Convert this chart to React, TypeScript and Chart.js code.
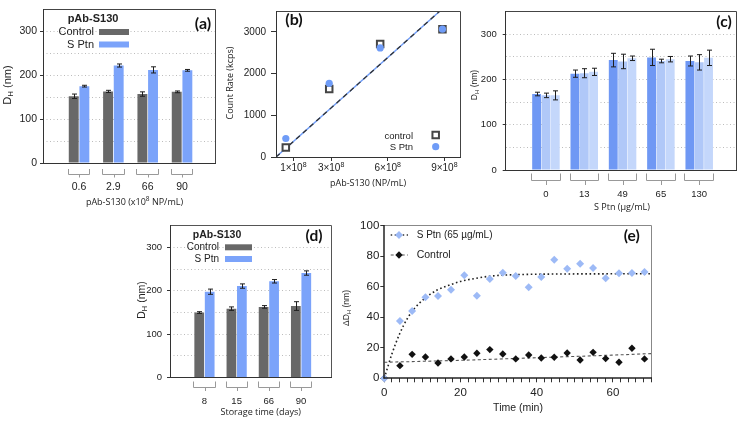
import React, { useEffect, useRef } from 'react';
import { Chart, registerables } from 'chart.js';

Chart.register(...registerables);

const SANS = '"Liberation Sans", Arial, sans-serif';
const OPEN = '"Open Sans", sans-serif';
const LATO = 'Lato, sans-serif';
Chart.defaults.font.family = SANS;
Chart.defaults.color = '#222';

// ---------- (a) pAb-S130 concentration ----------
const aCategories = ['0.6', '2.9', '66', '90'];
const aControl = [152, 163, 157, 162];
const aControlErr = [5, 2.5, 5, 2];
const aSPtn = [175, 222, 212, 211];
const aSPtnErr = [2, 3.5, 7, 2];

// ---------- (b) count rate ----------
const bConcentration = [0.6e8, 2.9e8, 5.6e8, 8.9e8];
const bControl = [230, 1630, 2710, 3060];
const bSPtn = [443, 1765, 2615, 3065];
const bFitX = [0.08e8, 8.77e8];
const bFitY = [0, 3500];
const bXTicks = [1e8, 3e8, 6e8, 9e8];
const bYTicks = [0, 1000, 2000, 3000];

// ---------- (c) S Ptn concentration ----------
const cCategories = ['0', '13', '49', '65', '130'];
const cSeries1 = [168, 213, 243, 249, 241];
const cSeries1Err = [4, 8, 15, 18, 11];
const cSeries2 = [165, 214, 240, 241, 238];
const cSeries2Err = [5, 10, 16, 4, 17];
const cSeries3 = [165, 217, 247, 245, 248];
const cSeries3Err = [10, 8, 5, 6, 17];

// ---------- (d) storage time ----------
const dCategories = ['8', '15', '66', '90'];
const dControl = [150, 159, 163, 165];
const dControlErr = [2, 4, 3, 10];
const dSPtn = [198, 211, 222, 241];
const dSPtnErr = [6, 5, 4, 5];

// ---------- (e) kinetics ----------
const eTime = [0, 4.1, 7.3, 10.8, 14.1, 17.5, 21.0, 24.3, 27.7, 31.1, 34.5, 37.9, 41.2, 44.6, 48.0, 51.4, 54.8, 58.1, 61.6, 65.0, 68.3];
const eSPtn = [0, 37.6, 44.1, 53.1, 53.9, 58.1, 67.5, 54.1, 65.1, 69.2, 67.0, 59.6, 66.4, 77.7, 71.8, 75.1, 72.3, 65.5, 68.8, 69.0, 69.7];
const eControl = [0, 8.3, 15.7, 14.0, 10.0, 12.7, 14.0, 16.4, 18.8, 15.9, 12.7, 15.3, 13.3, 13.8, 16.6, 12.0, 17.0, 12.9, 10.5, 19.7, 12.7];
const eSPtnFitT = [0, 2, 4, 6, 8, 10, 12, 14, 17, 20, 24, 28, 33, 40, 50, 70];
const eSPtnFit = [0, 16, 29, 39, 46, 51, 55, 58, 61, 63.5, 65.5, 67, 67.8, 68.2, 68.4, 68.5];
const eControlFitT = [0, 20, 40, 60, 70];
const eControlFit = [10.5, 11.8, 13.5, 15.2, 16.2];
const eXTickStep = 2;
const eYTickStep = 20;

// ---------- styling ----------
const GRAY = '#686868';
const BLUE = '#7ba3fa';
const C1 = '#6f98f4';
const C2 = '#b0c8f8';
const C3 = '#c4d7fb';
const GRID = '#bcbcbc';

type Box = { cl: number; ct: number; cw: number; ch: number; l: number; t: number; r: number; b: number };
const BOX_A: Box = { cl: 0, ct: 0, cw: 222, ch: 215, l: 43, t: 8, r: 215, b: 163 };
const BOX_B: Box = { cl: 222, ct: 0, cw: 248, ch: 215, l: 276, t: 9.3, r: 460, b: 157 };
const BOX_C: Box = { cl: 470, ct: 0, cw: 273, ch: 215, l: 505.7, t: 11.7, r: 736, b: 170 };
const BOX_D: Box = { cl: 125, ct: 215, cw: 220, ch: 215, l: 170, t: 224, r: 331, b: 377.7 };
const BOX_E: Box = { cl: 340, ct: 215, cw: 403, ch: 215, l: 384.3, t: 225.7, r: 651, b: 378.3 };

const padFor = (b: Box) => ({ left: 0, top: b.t - b.ct, right: b.cl + b.cw - b.r, bottom: 0 });
const yW = (b: Box) => b.l - b.cl;
const xH = (b: Box) => b.ct + b.ch - b.b;

type Part = { t: string; size: number; bold?: boolean; dy?: number; family?: string };
type TextItem = { parts: Part[]; x: number; y: number; rotate?: number; align?: 'left' | 'center' | 'right'; color?: string; family?: string };
type Shape =
  | { kind: 'rect'; x: number; y: number; w: number; h: number; color: string }
  | { kind: 'line'; x1: number; x2: number; y: number; color: string; width: number; dash?: number[] }
  | { kind: 'marker'; style: 'circle' | 'diamond' | 'hollowSquare'; x: number; y: number; r: number; fill: string; stroke?: string; sw?: number };
type FrameSide = [string, number];
type Decor = {
  origin: [number, number];
  frame: { top: FrameSide; right: FrameSide; bottom: FrameSide; left: FrameSide };
  texts: TextItem[];
  shapes: Shape[];
  errorBars?: boolean;
  brackets?: { y1: number; y2: number; y3: number; color: string; extend: number };
  xTickRich?: { values: number[]; y: number; parts: (v: number) => Part[] };
};

const T = (text: string, x: number, y: number, size: number, o: Partial<TextItem> & { bold?: boolean } = {}): TextItem => ({
  parts: [{ t: text, size, bold: o.bold }],
  x,
  y,
  ...o,
});
const DH = (x: number, y: number, size: number, sub: number, prefix = ''): TextItem => ({
  parts: [
    { t: prefix + 'D', size },
    { t: 'H', size: sub, dy: size * 0.28 },
    { t: ' (nm)', size },
  ],
  x,
  y,
  rotate: -90,
});

function drawRich(ctx: CanvasRenderingContext2D, it: TextItem, ox: number, oy: number) {
  ctx.save();
  ctx.translate(it.x - ox, it.y - oy);
  if (it.rotate) ctx.rotate((it.rotate * Math.PI) / 180);
  ctx.fillStyle = it.color || '#222';
  ctx.textBaseline = 'middle';
  ctx.textAlign = 'left';
  const fam = it.family || SANS;
  const fonts = it.parts.map((p) => `${p.bold ? 'bold ' : ''}${p.size}px ${p.family || fam}`);
  const widths = it.parts.map((p, i) => {
    ctx.font = fonts[i];
    return ctx.measureText(p.t).width;
  });
  const total = widths.reduce((a, b) => a + b, 0);
  let cx = it.align === 'left' ? 0 : it.align === 'right' ? -total : -total / 2;
  it.parts.forEach((p, i) => {
    ctx.font = fonts[i];
    ctx.fillText(p.t, cx, p.dy || 0);
    cx += widths[i];
  });
  ctx.restore();
}

function drawMarker(ctx: CanvasRenderingContext2D, s: Extract<Shape, { kind: 'marker' }>, x: number, y: number) {
  ctx.beginPath();
  if (s.style === 'circle') {
    ctx.arc(x, y, s.r, 0, Math.PI * 2);
  } else if (s.style === 'diamond') {
    ctx.moveTo(x, y - s.r);
    ctx.lineTo(x + s.r, y);
    ctx.lineTo(x, y + s.r);
    ctx.lineTo(x - s.r, y);
    ctx.closePath();
  } else {
    const h = s.r * Math.SQRT1_2;
    ctx.rect(x - h, y - h, 2 * h, 2 * h);
  }
  ctx.fillStyle = s.fill;
  ctx.fill();
  if (s.stroke) {
    ctx.strokeStyle = s.stroke;
    ctx.lineWidth = s.sw || 1;
    ctx.stroke();
  }
}

const decorPlugin = (spec: Decor) => ({
  id: 'decor',
  afterDatasetsDraw(chart: any) {
    const ctx: CanvasRenderingContext2D = chart.ctx;
    const [ox, oy] = spec.origin;
    const ca = chart.chartArea;

    if (spec.errorBars) {
      const yScale = chart.scales.y;
      chart.data.datasets.forEach((ds: any, di: number) => {
        if (!ds.errors) return;
        const meta = chart.getDatasetMeta(di);
        meta.data.forEach((el: any, i: number) => {
          const v = ds.data[i].y;
          const e = ds.errors[i];
          const x = Math.round(el.x) + 0.5;
          const y1 = yScale.getPixelForValue(v + e);
          const y2 = yScale.getPixelForValue(v - e);
          const cap = 2.5;
          ctx.save();
          ctx.strokeStyle = '#1e1e1e';
          ctx.lineWidth = 1;
          ctx.beginPath();
          ctx.moveTo(x, y1);
          ctx.lineTo(x, y2);
          ctx.moveTo(x - cap, y1);
          ctx.lineTo(x + cap, y1);
          ctx.moveTo(x - cap, y2);
          ctx.lineTo(x + cap, y2);
          ctx.stroke();
          ctx.restore();
        });
      });
    }

    if (spec.brackets) {
      const br = spec.brackets;
      const metas = chart.data.datasets.map((_: any, i: number) => chart.getDatasetMeta(i));
      const n = chart.data.datasets[0].data.length;
      ctx.save();
      ctx.strokeStyle = br.color;
      ctx.lineWidth = 1;
      for (let i = 0; i < n; i++) {
        let lo = Infinity;
        let hi = -Infinity;
        metas.forEach((m: any) => {
          const el = m.data[i];
          if (!el) return;
          lo = Math.min(lo, el.x - el.width / 2);
          hi = Math.max(hi, el.x + el.width / 2);
        });
        lo = Math.round(lo - br.extend) + 0.5;
        hi = Math.round(hi + br.extend) - 0.5;
        const mid = Math.round((lo + hi) / 2) + 0.5;
        const y1 = br.y1 - oy;
        const y2 = Math.round(br.y2 - oy) + 0.5;
        const y3 = br.y3 - oy;
        ctx.beginPath();
        ctx.moveTo(lo, y1);
        ctx.lineTo(lo, y2);
        ctx.lineTo(hi, y2);
        ctx.lineTo(hi, y1);
        ctx.moveTo(mid, y2);
        ctx.lineTo(mid, y3);
        ctx.stroke();
      }
      ctx.restore();
    }

    // frame
    const f = spec.frame;
    const snap = (v: number, w: number) => (Math.round(w) % 2 === 1 ? Math.floor(v) + 0.5 : Math.round(v));
    const seg = (x1: number, y1: number, x2: number, y2: number, side: FrameSide) => {
      ctx.save();
      ctx.strokeStyle = side[0];
      ctx.lineWidth = side[1];
      ctx.beginPath();
      ctx.moveTo(x1, y1);
      ctx.lineTo(x2, y2);
      ctx.stroke();
      ctx.restore();
    };
    const L = snap(ca.left, f.left[1]);
    const R = snap(ca.right, f.right[1]);
    const Tp = snap(ca.top, f.top[1]);
    const B = snap(ca.bottom, f.bottom[1]);
    seg(R, Tp, R, B, f.right);
    seg(L, Tp, R, Tp, f.top);
    seg(L, Tp - 0.5, L, B + 0.5, f.left);
    seg(L - 0.5, B, R + 0.5, B, f.bottom);

    if (spec.xTickRich) {
      const xs = chart.scales.x;
      const tr = spec.xTickRich;
      tr.values.forEach((v) => {
        drawRich(ctx, { parts: tr.parts(v), x: xs.getPixelForValue(v) + ox, y: tr.y }, ox, oy);
      });
    }

    spec.shapes.forEach((s) => {
      ctx.save();
      if (s.kind === 'rect') {
        ctx.fillStyle = s.color;
        ctx.fillRect(s.x - ox, s.y - oy, s.w, s.h);
      } else if (s.kind === 'line') {
        ctx.strokeStyle = s.color;
        ctx.lineWidth = s.width;
        ctx.setLineDash(s.dash || []);
        ctx.beginPath();
        ctx.moveTo(s.x1 - ox, s.y - oy);
        ctx.lineTo(s.x2 - ox, s.y - oy);
        ctx.stroke();
      } else {
        drawMarker(ctx, s, s.x - ox, s.y - oy);
      }
      ctx.restore();
    });

    spec.texts.forEach((t) => drawRich(ctx, t, ox, oy));
  },
});

const baseOptions = {
  responsive: false,
  maintainAspectRatio: false,
  animation: false as const,
  events: [] as any[],
  plugins: { legend: { display: false }, tooltip: { enabled: false } },
};

const DARK_FRAME = { top: ['#444', 1], right: ['#444', 1], bottom: ['#333', 1], left: ['#333', 1] } as Decor['frame'];

function barConfig(
  box: Box,
  categories: string[],
  datasets: any[],
  xMin: number,
  xMax: number,
  tickSize: number,
  xPad: number,
  yPad: number,
  decor: Omit<Decor, 'origin'>,
) {
  return {
    type: 'bar',
    data: { datasets },
    options: {
      ...baseOptions,
      layout: { padding: padFor(box) },
      scales: {
        x: {
          type: 'linear',
          min: xMin,
          max: xMax,
          bounds: 'data',
          offset: false,
          afterFit: (s: any) => {
            s.height = xH(box);
          },
          afterBuildTicks: (s: any) => {
            s.ticks = categories.map((_, i) => ({ value: i }));
          },
          border: { display: false },
          grid: { display: false, drawTicks: false, offset: false },
          ticks: {
            autoSkip: false,
            maxRotation: 0,
            padding: xPad,
            color: '#222',
            font: { size: tickSize, family: SANS },
            callback: (v: number) => categories[v] ?? '',
          },
        },
        y: {
          min: 0,
          max: 350,
          afterFit: (s: any) => {
            s.width = yW(box);
          },
          border: { display: false, dash: [1, 2.5] },
          grid: {
            color: (c: any) => (c.tick && c.tick.value === 0 ? 'rgba(0,0,0,0)' : GRID),
            lineWidth: 1,
            tickLength: 3,
            tickColor: (c: any) => (c.tick && c.tick.value % 100 === 0 ? '#333' : 'rgba(0,0,0,0)'),
          },
          ticks: {
            stepSize: 50,
            autoSkip: false,
            padding: yPad,
            color: '#222',
            font: { size: tickSize, family: SANS },
            callback: (v: number) => (v % 100 === 0 ? String(v) : ''),
          },
        },
      },
    },
    plugins: [decorPlugin({ origin: [box.cl, box.ct], ...decor })],
  };
}

const toXY = (vals: number[]) => vals.map((v, i) => ({ x: i, y: v }));

function configA() {
  const ds = [
    { label: 'Control', data: toXY(aControl), errors: aControlErr, backgroundColor: GRAY, borderWidth: 0, categoryPercentage: 0.62, barPercentage: 0.93 },
    { label: 'S Ptn', data: toXY(aSPtn), errors: aSPtnErr, backgroundColor: BLUE, borderWidth: 0, categoryPercentage: 0.62, barPercentage: 0.93 },
  ];
  return barConfig(BOX_A, aCategories, ds, -1.05, 3.96, 10.5, 17.7, 3, {
    frame: DARK_FRAME,
    errorBars: true,
    brackets: { y1: 169, y2: 173.5, y3: 177.5, color: '#999', extend: 1 },
    shapes: [
      { kind: 'rect', x: 99, y: 29, w: 30, h: 6, color: GRAY },
      { kind: 'rect', x: 99, y: 41.5, w: 30, h: 6, color: BLUE },
    ],
    texts: [
      DH(8, 85, 11, 8),
      {
        parts: [
          { t: 'pAb-S130 (x10', size: 9 },
          { t: '8', size: 6.5, dy: -3.2 },
          { t: ' NP/mL)', size: 9 },
        ],
        x: 134.5,
        y: 202,
        family: OPEN,
      },
      T('pAb-S130', 93, 19, 11, { bold: true }),
      T('Control', 94, 32, 11, { align: 'right' }),
      T('S Ptn', 94, 45, 11, { align: 'right' }),
      { parts: [{ t: '(a)', size: 16, bold: true }], x: 203, y: 24, family: LATO, color: '#111' },
    ],
  });
}

function configC() {
  const common = { borderWidth: 0, categoryPercentage: 0.73, barPercentage: 0.95 };
  const ds = [
    { label: 'Series 1', data: toXY(cSeries1), errors: cSeries1Err, backgroundColor: C1, ...common },
    { label: 'Series 2', data: toXY(cSeries2), errors: cSeries2Err, backgroundColor: C2, ...common },
    { label: 'Series 3', data: toXY(cSeries3), errors: cSeries3Err, backgroundColor: C3, ...common },
  ];
  return barConfig(BOX_C, cCategories, ds, -1.05, 4.96, 9.5, 18.8, 6, {
    frame: DARK_FRAME,
    errorBars: true,
    brackets: { y1: 173.5, y2: 180, y3: 185, color: '#999', extend: 1 },
    shapes: [],
    texts: [
      DH(475, 85, 8.5, 6),
      { parts: [{ t: 'S Ptn (µg/mL)', size: 9 }], x: 622, y: 207, family: OPEN },
      { parts: [{ t: '(c)', size: 15.5, bold: true }], x: 724, y: 22, family: LATO, color: '#111' },
    ],
  });
}

function configD() {
  const ds = [
    { label: 'Control', data: toXY(dControl), errors: dControlErr, backgroundColor: GRAY, borderWidth: 0, categoryPercentage: 0.65, barPercentage: 0.93 },
    { label: 'S Ptn', data: toXY(dSPtn), errors: dSPtnErr, backgroundColor: BLUE, borderWidth: 0, categoryPercentage: 0.65, barPercentage: 0.93 },
  ];
  return barConfig(BOX_D, dCategories, ds, -1.07, 3.93, 9.5, 17.6, 5, {
    frame: { top: ['#555', 1], right: ['#555', 1], bottom: ['#333', 1], left: ['#333', 1] },
    errorBars: true,
    brackets: { y1: 381.5, y2: 386.5, y3: 391, color: '#999', extend: 1 },
    shapes: [
      { kind: 'rect', x: 225, y: 244.3, w: 27, h: 6, color: GRAY },
      { kind: 'rect', x: 225, y: 256, w: 27, h: 6, color: BLUE },
    ],
    texts: [
      DH(141.7, 300, 10.5, 7.5),
      { parts: [{ t: 'Storage time (days)', size: 9 }], x: 260.7, y: 412, family: OPEN },
      T('pAb-S130', 217, 235, 10.5, { bold: true }),
      T('Control', 219, 247.3, 10, { align: 'right' }),
      T('S Ptn', 219, 259, 10, { align: 'right' }),
      { parts: [{ t: '(d)', size: 15.5, bold: true }], x: 314, y: 236, family: LATO, color: '#111' },
    ],
  });
}

function configB() {
  const box = BOX_B;
  const fit = bFitX.map((x, i) => ({ x, y: bFitY[i] }));
  return {
    type: 'scatter',
    data: {
      datasets: [
        { label: 'S Ptn', data: bConcentration.map((x, i) => ({ x, y: bSPtn[i] })), pointStyle: 'circle', pointRadius: 3.6, backgroundColor: '#6f9cf7', borderWidth: 0, order: 0, clip: false },
        { label: 'control', data: bConcentration.map((x, i) => ({ x, y: bControl[i] })), pointStyle: 'rect', pointRadius: 4.6, backgroundColor: '#ffffff', borderColor: '#454545', borderWidth: 2, order: 1, clip: false },
        { label: 'fit', data: fit, showLine: true, pointRadius: 0, borderColor: '#333', borderWidth: 1.3, borderDash: [5, 4], order: 2 },
        { label: 'fit S Ptn', data: fit, showLine: true, pointRadius: 0, borderColor: '#6f9cf7', borderWidth: 1.4, order: 3 },
      ],
    },
    options: {
      ...baseOptions,
      layout: { padding: padFor(box) },
      scales: {
        x: {
          type: 'linear',
          min: 0.08e8,
          max: 9.83e8,
          bounds: 'data',
          afterFit: (s: any) => {
            s.height = xH(box);
          },
          afterBuildTicks: (s: any) => {
            s.ticks = bXTicks.map((v) => ({ value: v }));
          },
          border: { display: false },
          grid: { drawOnChartArea: false, tickLength: 4, tickColor: '#333' },
          ticks: {
            autoSkip: false,
            maxRotation: 0,
            padding: 1,
            color: '#222',
            font: { size: 10, family: SANS },
            callback: () => '',
          },
        },
        y: {
          min: 0,
          max: 3500,
          bounds: 'data',
          afterFit: (s: any) => {
            s.width = yW(box);
          },
          afterBuildTicks: (s: any) => {
            s.ticks = bYTicks.map((v) => ({ value: v }));
          },
          border: { display: false },
          grid: { drawOnChartArea: false, tickLength: 5, tickColor: '#333' },
          ticks: { autoSkip: false, padding: 5, color: '#222', font: { size: 10, family: SANS }, callback: (v: number) => String(v) },
        },
      },
    },
    plugins: [
      decorPlugin({
        origin: [box.cl, box.ct],
        frame: DARK_FRAME,
        xTickRich: {
          values: bXTicks,
          y: 168.5,
          parts: (v: number) => [
            { t: `${Math.round(v / 1e8)}×10`, size: 10 },
            { t: '8', size: 7, dy: -3.6 },
          ],
        },
        shapes: [
          { kind: 'marker', style: 'hollowSquare', x: 435.7, y: 135, r: 4.6, fill: '#fff', stroke: '#454545', sw: 2 },
          { kind: 'marker', style: 'circle', x: 435.7, y: 146.7, r: 3.6, fill: '#6f9cf7' },
        ],
        texts: [
          { parts: [{ t: 'Count Rate (kcps)', size: 9 }], x: 230, y: 83, rotate: -90, family: OPEN },
          { parts: [{ t: 'pAb-S130 (NP/mL)', size: 9 }], x: 368, y: 183, family: OPEN },
          T('control', 413, 136, 9.5, { align: 'right' }),
          T('S Ptn', 413, 147, 9.5, { align: 'right' }),
          { parts: [{ t: '(b)', size: 16, bold: true }], x: 294, y: 20, family: LATO, color: '#111' },
        ],
      }),
    ],
  };
}

function configE() {
  const box = BOX_E;
  return {
    type: 'scatter',
    data: {
      datasets: [
        { label: 'S Ptn (65 µg/mL)', data: eTime.map((x, i) => ({ x, y: eSPtn[i] })), pointStyle: 'rectRot', pointRadius: 4, backgroundColor: '#9dbaf6', borderWidth: 0, order: 0, clip: false },
        { label: 'Control', data: eTime.map((x, i) => ({ x, y: eControl[i] })), pointStyle: 'rectRot', pointRadius: 3.7, backgroundColor: '#111', borderWidth: 0, order: 1, clip: false },
        { label: 'S Ptn fit', data: eSPtnFitT.map((x, i) => ({ x, y: eSPtnFit[i] })), showLine: true, pointRadius: 0, borderColor: '#222', borderWidth: 1.6, borderDash: [1.6, 2.6], cubicInterpolationMode: 'monotone', order: 2 },
        { label: 'Control fit', data: eControlFitT.map((x, i) => ({ x, y: eControlFit[i] })), showLine: true, pointRadius: 0, borderColor: '#555', borderWidth: 1.1, borderDash: [3, 2.5], cubicInterpolationMode: 'monotone', order: 3 },
      ],
    },
    options: {
      ...baseOptions,
      layout: { padding: padFor(box) },
      scales: {
        x: {
          type: 'linear',
          min: 0,
          max: 70,
          afterFit: (s: any) => {
            s.height = xH(box);
          },
          border: { display: false },
          grid: { drawOnChartArea: false, tickLength: 4, tickColor: '#333' },
          ticks: {
            stepSize: eXTickStep,
            autoSkip: false,
            maxRotation: 0,
            padding: 3.5,
            color: '#222',
            font: { size: 11.5, family: SANS },
            callback: (v: number) => (v % 20 === 0 ? String(v) : ''),
          },
        },
        y: {
          min: 0,
          max: 100,
          afterFit: (s: any) => {
            s.width = yW(box);
          },
          border: { display: false },
          grid: { drawOnChartArea: false, tickLength: 4, tickColor: '#333' },
          ticks: { stepSize: eYTickStep, autoSkip: false, padding: 1, color: '#222', font: { size: 11.5, family: SANS } },
        },
      },
    },
    plugins: [
      decorPlugin({
        origin: [box.cl, box.ct],
        frame: { top: ['#888', 1], right: ['#888', 1], bottom: ['#222', 1.5], left: ['#222', 1.5] },
        shapes: [
          { kind: 'line', x1: 390.7, x2: 408, y: 235, color: '#333', width: 1.5, dash: [1.5, 2.5] },
          { kind: 'marker', style: 'diamond', x: 399, y: 235, r: 4, fill: '#9dbaf6' },
          { kind: 'line', x1: 390.7, x2: 408, y: 255, color: '#555', width: 1.1, dash: [3, 2.5] },
          { kind: 'marker', style: 'diamond', x: 399, y: 255, r: 3.7, fill: '#111' },
        ],
        texts: [
          DH(347, 308, 8.5, 6, 'Δ'),
          T('Time (min)', 518, 408, 10.5),
          T('S Ptn (65 µg/mL)', 416.7, 235, 10, { align: 'left' }),
          T('Control', 416.7, 255, 10.5, { align: 'left' }),
          { parts: [{ t: '(e)', size: 15.5, bold: true }], x: 631.7, y: 236, family: LATO, color: '#111' },
        ],
      }),
    ],
  };
}

function ChartCanvas({ box, make }: { box: Box; make: () => any }) {
  const ref = useRef<HTMLCanvasElement>(null);
  useEffect(() => {
    if (!ref.current) return;
    const chart = new Chart(ref.current, make());
    return () => chart.destroy();
  }, []);
  return (
    <canvas
      ref={ref}
      width={box.cw}
      height={box.ch}
      style={{ position: 'absolute', left: box.cl, top: box.ct, width: box.cw, height: box.ch }}
    />
  );
}

export default function App() {
  return (
    <div style={{ position: 'absolute', left: 0, top: 0, width: 743, height: 430, background: '#fff', overflow: 'hidden' }}>
      <ChartCanvas box={BOX_A} make={configA} />
      <ChartCanvas box={BOX_B} make={configB} />
      <ChartCanvas box={BOX_C} make={configC} />
      <ChartCanvas box={BOX_D} make={configD} />
      <ChartCanvas box={BOX_E} make={configE} />
    </div>
  );
}
